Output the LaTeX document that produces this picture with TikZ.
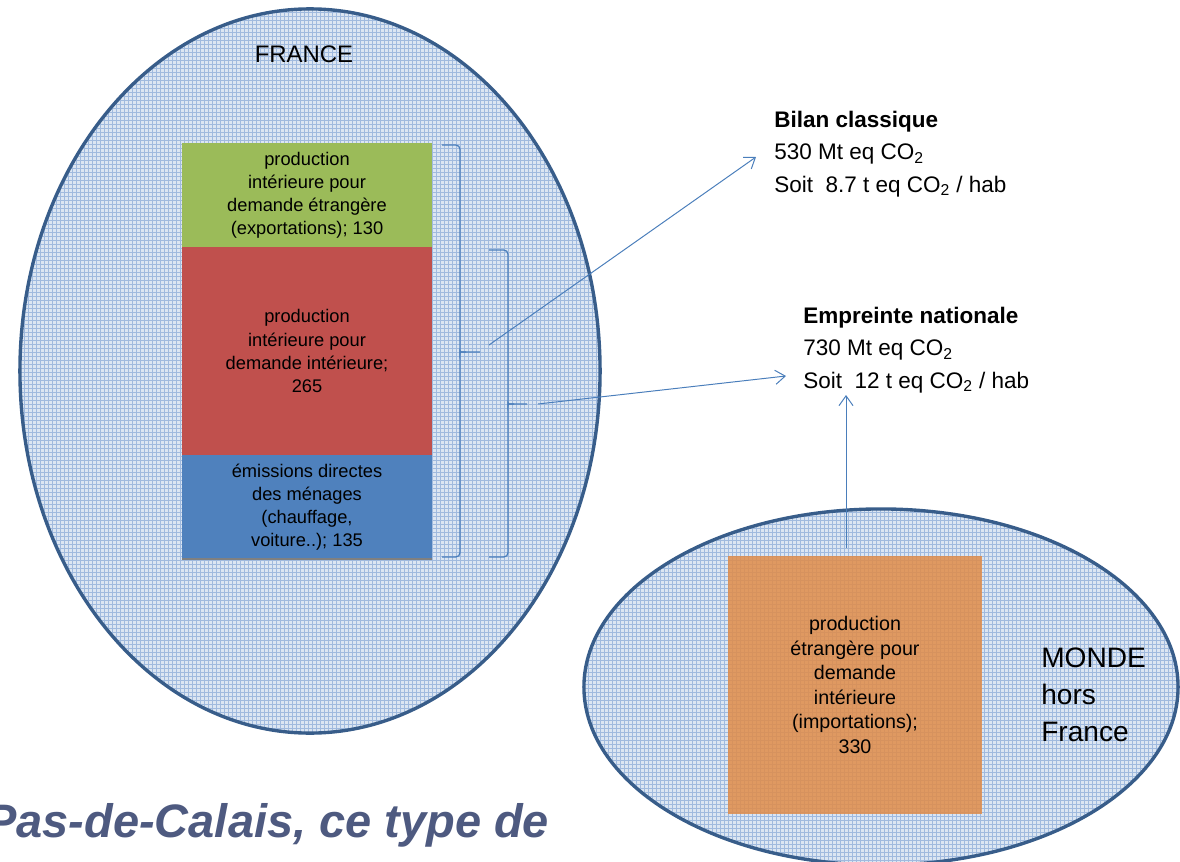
\documentclass[tikz,border=0pt]{standalone}
\usepackage{fontspec}
\setmainfont{Liberation Sans}
\usetikzlibrary{positioning,arrows.meta}

\definecolor{zonefill}{RGB}{220,230,242}
\definecolor{zonegrid}{RGB}{160,186,222}
\definecolor{zoneline}{RGB}{56,93,138}
\definecolor{trait}{RGB}{74,126,187}
\definecolor{vert}{RGB}{155,187,89}
\definecolor{rouge}{RGB}{192,80,77}
\definecolor{bleu}{RGB}{79,129,189}
\definecolor{orangebloc}{RGB}{224,140,72}
\definecolor{titre}{RGB}{78,90,128}

\tikzset{
  bloc/.style={inner sep=0pt, outer sep=0pt, minimum width=6.25cm, align=center,
    font=\fontsize{13}{16.4}\selectfont},
  accolade/.style={draw=trait, line width=0.9pt, rounded corners=3pt},
  lien/.style={draw=trait, line width=0.7pt, -{Straight Barb[length=7pt,width=10pt]}},
  bilan/.style={anchor=north west, inner sep=0pt, align=left,
    font=\fontsize{16}{23}\selectfont},
}

\begin{document}
\begin{tikzpicture}[x=0.025cm, y=-0.025cm]
    \useasboundingbox (0,0) rectangle (1180,862);
    \coordinate (F) at (310,371); % centre France
    \coordinate (W) at (881,687); % centre Monde
    % zones quadrillees
    \foreach \zone/\rx/\ry in {F/7.25cm/9.05cm, W/7.425cm/4.45cm} {
        \begin{scope}
            \clip (\zone) ellipse [x radius=\rx, y radius=\ry];
            \fill[zonefill] (0,862) rectangle (1180,0);
            \draw[zonegrid, line width=0.3pt, step=0.1cm] (0,862) grid (1180,0);
        \end{scope}
        \draw[zoneline, line width=2.4pt] (\zone) ellipse [x radius=\rx, y radius=\ry];
    }
    \node[anchor=base, font=\fontsize{17}{20}\selectfont] (france) at (304,62) {FRANCE};
    % emissions France
    \node[bloc, fill=vert, minimum height=2.6cm] (export) at (307,195)
        {production\\intérieure pour\\demande étrangère\\(exportations); 130};
    \node[bloc, fill=rouge, minimum height=5.2cm, below=0pt of export] (interne)
        {production\\intérieure pour\\demande intérieure;\\265};
    \node[bloc, fill=bleu, minimum height=2.6cm, below=0pt of interne] (menages)
        {émissions directes\\des ménages\\(chauffage,\\voiture..); 135};
    \draw[gray, line width=1.5pt] (menages.south west) -- (menages.south east);
    % importations
    \node[bloc, fill=orangebloc, fill opacity=0.85, text opacity=1, minimum width=6.35cm,
        minimum height=6.425cm, font=\fontsize{14}{17.5}\selectfont] (import) at (855,685)
        {production\\étrangère pour\\demande\\intérieure\\(importations);\\330};
    \node[bilan, font=\fontsize{20}{26}\selectfont] (monde) at (1041,648) {MONDE\\hors\\France};
    % accolades
    \draw[accolade] (442,145) -- (460,145) -- (460,349) .. controls (460,352) .. (466,352) -- (480,352);
    \draw[accolade] (466,352) .. controls (460,352) .. (460,355) -- (460,557) -- (442,557);
    \draw[accolade] (489,250) -- (508,250) -- (508,401) .. controls (508,404) .. (514,404) -- (527,404);
    \draw[accolade] (514,404) .. controls (508,404) .. (508,407) -- (508,557) -- (489,557);
    % bilans
    \node[bilan] (classique) at (774,111)
        {\textbf{Bilan classique}\\530 Mt eq CO\textsubscript{2}\\Soit\ \ 8.7 t eq CO\textsubscript{2} / hab};
    \node[bilan] (empreinte) at (803,307)
        {\textbf{Empreinte nationale}\\730 Mt eq CO\textsubscript{2}\\Soit\ \ 12 t eq CO\textsubscript{2} / hab};
    \coordinate (dep1) at (489,345); % pointe accolade 1
    \coordinate (arr1) at (756,157);
    \coordinate (dep2) at (538,404); % pointe accolade 2
    \coordinate (arr2) at (786,376);
    \coordinate (dep3) at (846,548); % haut importations
    \coordinate (arr3) at (846,395);
    \draw[lien] (dep1) -- (arr1);
    \draw[lien] (dep2) -- (arr2);
    \draw[lien] (dep3) -- (arr3);
    \node[anchor=base west, inner sep=0pt, text=titre,
        font=\fontsize{33.4}{40}\selectfont\bfseries\itshape] (legende) at (-15,837)
        {Pas-de-Calais, ce type de};
\end{tikzpicture}
\end{document}
